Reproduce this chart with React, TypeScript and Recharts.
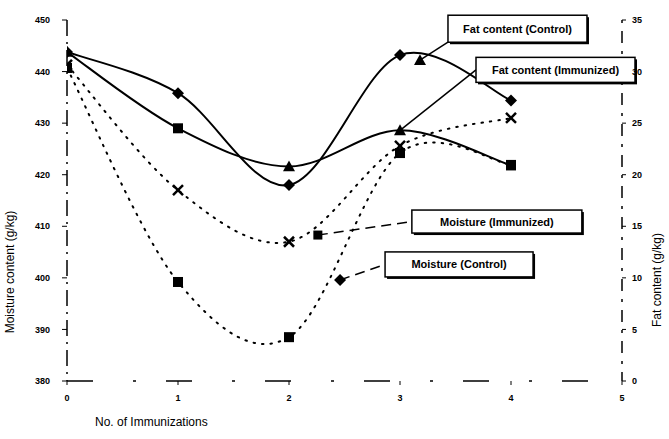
import React from 'react';
import { LineChart, Line, XAxis, YAxis, ReferenceDot } from 'recharts';

const immunizations = [0, 1, 2, 3, 4];
const xTicks = [0, 1, 2, 3, 4, 5];
const leftTicks = [380, 390, 400, 410, 420, 430, 440, 450];
const rightTicks = [0, 5, 10, 15, 20, 25, 30, 35];

const fatControl = [31.9, 27.9, 19.0, 31.6, 27.2];
const fatImmunized = [31.9, 24.5, 20.8, 24.3, 20.9];
const moistureImmunized = [441.3, 417.0, 407.0, 425.6, 431.0];
const moistureControl = [440.7, 399.2, 388.5, 424.2, 421.9];

const calloutText = ['Fat content (Control)', 'Fat content (Immunized)', 'Moisture (Immunized)', 'Moisture (Control)'];
const calloutX = [3.18, 3, 2.26, 2.46];
const calloutY = [31.1, 24.3, 408.3, 399.6];
const calloutAxis = ['right', 'right', 'left', 'left'];

const data = immunizations.map((x, i) => ({
  x,
  fatControl: fatControl[i],
  fatImmunized: fatImmunized[i],
  moistureImmunized: moistureImmunized[i],
  moistureControl: moistureControl[i],
}));

const FONT = '"Liberation Sans", Arial, sans-serif';

// style: marker shape per point of the Fat (Immunized) series
const fatImmunizedMarkers = ['triangle', 'square', 'triangle', 'triangle', 'square'];

// layout of callout boxes relative to anchor (pixels)
const calloutLayout = [
  { dx: 28, dy: -45, w: 139, h: 27, marker: 'triangle', leader: 'solid' },
  { dx: 76, dy: -73, w: 159, h: 25, marker: 'none', leader: 'solid' },
  { dx: 94, dy: -25, w: 170, h: 23, marker: 'square', leader: 'dashed' },
  { dx: 45, dy: -28, w: 148, h: 25, marker: 'diamond', leader: 'dashed' },
];

// Excel-like smoothed line (Catmull-Rom style Bezier)
const smoothCurve = (context: any) => {
  let pts: number[][] = [];
  return {
    areaStart() {},
    areaEnd() {},
    lineStart() {
      pts = [];
    },
    point(x: number, y: number) {
      pts.push([+x, +y]);
    },
    lineEnd() {
      const n = pts.length;
      if (!n) return;
      context.moveTo(pts[0][0], pts[0][1]);
      for (let i = 0; i < n - 1; i++) {
        const p0 = pts[Math.max(i - 1, 0)];
        const p1 = pts[i];
        const p2 = pts[i + 1];
        const p3 = pts[Math.min(i + 2, n - 1)];
        const c1x = p1[0] + (p2[0] - p0[0]) / 6;
        const c1y = p1[1] + (p2[1] - p0[1]) / 6;
        const c2x = p2[0] - (p3[0] - p1[0]) / 6;
        const c2y = p2[1] - (p3[1] - p1[1]) / 6;
        context.bezierCurveTo(c1x, c1y, c2x, c2y, p2[0], p2[1]);
      }
    },
  };
};

const Diamond = ({ cx, cy, s = 6 }: any) => (
  <polygon points={`${cx},${cy - s} ${cx + s},${cy} ${cx},${cy + s} ${cx - s},${cy}`} fill="#000" />
);
const Triangle = ({ cx, cy, s = 6 }: any) => (
  <polygon points={`${cx},${cy - s} ${cx + s},${cy + s * 0.8} ${cx - s},${cy + s * 0.8}`} fill="#000" />
);
const Square = ({ cx, cy, s = 5 }: any) => (
  <rect x={cx - s} y={cy - s} width={2 * s} height={2 * s} fill="#000" />
);
const XMark = ({ cx, cy, s = 5 }: any) => (
  <g stroke="#000" strokeWidth={2.5}>
    <line x1={cx - s} y1={cy - s} x2={cx + s} y2={cy + s} />
    <line x1={cx - s} y1={cy + s} x2={cx + s} y2={cy - s} />
  </g>
);

const dotRenderer = (Shape: any) => (props: any) => {
  const { cx, cy, index } = props;
  if (cx == null || cy == null) return <g key={index} />;
  return <Shape key={index} cx={cx} cy={cy} />;
};

const fatImmunizedDot = (props: any) => {
  const { cx, cy, index } = props;
  if (cx == null || cy == null) return <g key={index} />;
  return fatImmunizedMarkers[index] === 'square' ? (
    <Square key={index} cx={cx} cy={cy} />
  ) : (
    <Triangle key={index} cx={cx} cy={cy} />
  );
};

const Callout = ({ cx, cy, idx }: any) => {
  const L = calloutLayout[idx];
  const bx = cx + L.dx;
  const by = cy + L.dy;
  const midY = by + L.h / 2;
  return (
    <g>
      <line
        x1={cx}
        y1={cy}
        x2={bx}
        y2={idx === 0 ? by + L.h : midY}
        stroke="#000"
        strokeWidth={1.5}
        strokeDasharray={L.leader === 'dashed' ? '10 6' : undefined}
      />
      <rect x={bx + 2} y={by + 2} width={L.w} height={L.h} fill="#000" />
      <rect x={bx} y={by} width={L.w} height={L.h} fill="#fff" stroke="#000" strokeWidth={1.5} />
      <text
        x={bx + L.w / 2}
        y={midY + 4}
        textAnchor="middle"
        fontFamily={FONT}
        fontSize={11}
        fontWeight="bold"
        fill="#000"
      >
        {calloutText[idx]}
      </text>
      {L.marker === 'triangle' && <Triangle cx={cx} cy={cy} />}
      {L.marker === 'square' && <Square cx={cx} cy={cy} s={4.5} />}
      {L.marker === 'diamond' && <Diamond cx={cx} cy={cy} s={6} />}
    </g>
  );
};

const tickStyle = { fontFamily: FONT, fontSize: 9, fontWeight: 'bold' as const, fill: '#000' };

export default function App() {
  return (
    <div style={{ width: 669, height: 439, background: '#fff' }}>
      <style>{'body{margin:0;background:#fff}'}</style>
      <LineChart width={669} height={439} data={data} margin={{ top: 20, right: 0, bottom: 0, left: 0 }}>
        <XAxis
          dataKey="x"
          type="number"
          domain={[0, 5]}
          ticks={xTicks}
          allowDataOverflow
          height={58}
          tickSize={4}
          tickMargin={10}
          tick={tickStyle}
          stroke="#000"
          axisLine={{ stroke: '#000', strokeWidth: 1.5, strokeDasharray: '26 40 3 30' }}
          label={() => (
            <text x={95} y={426} fontFamily={FONT} fontSize={12} fill="#000">
              No. of Immunizations
            </text>
          )}
        />
        <YAxis
          yAxisId="left"
          orientation="left"
          domain={[380, 450]}
          ticks={leftTicks}
          width={67}
          tickSize={5}
          tickMargin={12}
          tick={tickStyle}
          stroke="#000"
          axisLine={{ stroke: '#000', strokeWidth: 1.5, strokeDasharray: '16 6 2 6' }}
          label={() => (
            <text
              x={0}
              y={0}
              transform="translate(14,272) rotate(-90)"
              textAnchor="middle"
              fontFamily={FONT}
              fontSize={12}
              fill="#000"
            >
              Moisture content (g/kg)
            </text>
          )}
        />
        <YAxis
          yAxisId="right"
          orientation="right"
          domain={[0, 35]}
          ticks={rightTicks}
          width={47}
          tickSize={4}
          tickMargin={6}
          tick={tickStyle}
          stroke="#000"
          axisLine={{ stroke: '#000', strokeWidth: 1.5, strokeDasharray: '3 8 12 8' }}
          label={() => (
            <text
              x={0}
              y={0}
              transform="translate(661,280) rotate(-90)"
              textAnchor="middle"
              fontFamily={FONT}
              fontSize={12}
              fill="#000"
            >
              Fat content (g/kg)
            </text>
          )}
        />
        <Line
          yAxisId="left"
          dataKey="moistureImmunized"
          type={smoothCurve as any}
          stroke="#000"
          strokeWidth={2}
          strokeDasharray="1.5 7"
          strokeLinecap="round"
          dot={dotRenderer(XMark)}
          isAnimationActive={false}
        />
        <Line
          yAxisId="left"
          dataKey="moistureControl"
          type={smoothCurve as any}
          stroke="#000"
          strokeWidth={2}
          strokeDasharray="1.5 7"
          strokeLinecap="round"
          dot={dotRenderer(Square)}
          isAnimationActive={false}
        />
        <Line
          yAxisId="right"
          dataKey="fatImmunized"
          type={smoothCurve as any}
          stroke="#000"
          strokeWidth={2}
          dot={fatImmunizedDot}
          isAnimationActive={false}
        />
        <Line
          yAxisId="right"
          dataKey="fatControl"
          type={smoothCurve as any}
          stroke="#000"
          strokeWidth={2}
          dot={dotRenderer(Diamond)}
          isAnimationActive={false}
        />
        {calloutText.map((t, i) => (
          <ReferenceDot
            key={t}
            x={calloutX[i]}
            y={calloutY[i]}
            yAxisId={calloutAxis[i]}
            ifOverflow="visible"
            shape={(p: any) => <Callout cx={p.cx} cy={p.cy} idx={i} />}
          />
        ))}
      </LineChart>
    </div>
  );
}
